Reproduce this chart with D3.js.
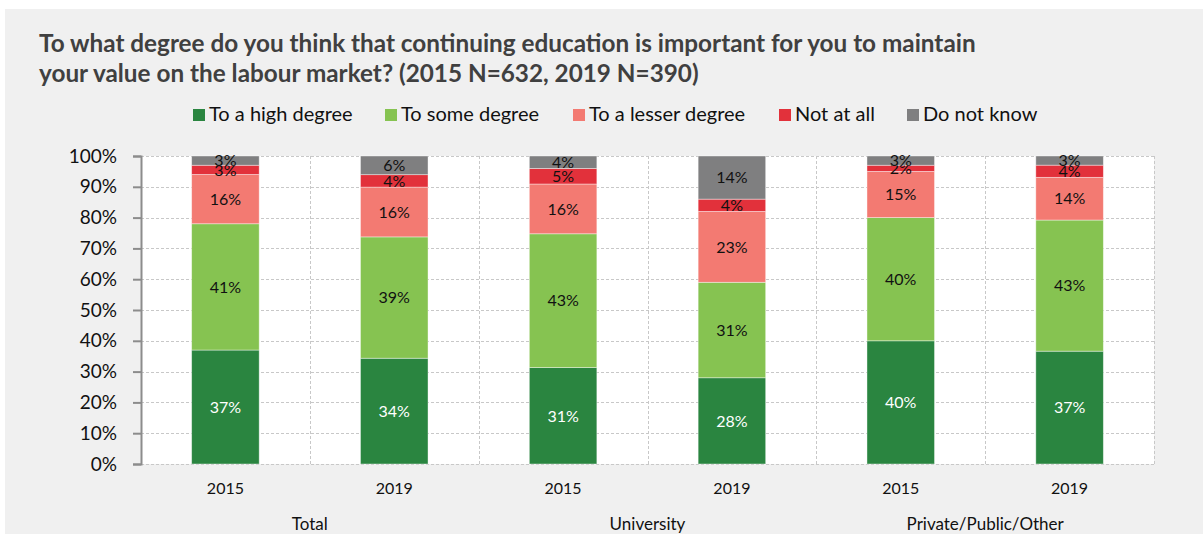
<!DOCTYPE html>
<html lang="en">
<head>
    <meta charset="UTF-8">
    <title>Continuing education</title>
    <script src="https://d3js.org/d3.v7.min.js"></script>
    <style>
        body { margin: 0; background: #fff; font-family: Lato, "Open Sans", sans-serif; }
        svg { display: block; }
    </style>
</head>
<body>
    <div id="chart"></div>

    <script>
        const titleLines = [
            "To what degree do you think that continuing education is important for you to maintain",
            "your value on the labour market? (2015 N=632, 2019 N=390)"
        ];
        const series = ["To a high degree", "To some degree", "To a lesser degree", "Not at all", "Do not know"];
        const colors = ["#2a8540", "#86c351", "#f37a72", "#e2313b", "#7f7f80"];
        const groups = ["Total", "University", "Private/Public/Other"];
        const years = ["2015", "2019"];

        // one array per series, in bar order: Total 15, Total 19, Uni 15, Uni 19, Priv 15, Priv 19
        const highDegree   = [37, 34, 31, 28, 40, 37];
        const someDegree   = [41, 39, 43, 31, 40, 43];
        const lesserDegree = [16, 16, 16, 23, 15, 14];
        const notAtAll     = [3, 4, 5, 4, 2, 4];
        const doNotKnow    = [3, 6, 4, 14, 3, 3];
        const yTicks = [0, 10, 20, 30, 40, 50, 60, 70, 80, 90, 100];

        const W = 1203, H = 534;
        const pLeft = 141, pRight = 1154, pTop = 156, pBottom = 464;

        const svg = d3.select("#chart").append("svg")
            .attr("width", W).attr("height", H);

        // grey panel
        svg.append("rect").attr("x", 5).attr("y", 9)
            .attr("width", W - 5).attr("height", H - 9).attr("fill", "#f0f0f0");

        // title
        svg.append("g").selectAll("text").data(titleLines).enter().append("text")
            .attr("x", 39).attr("y", (d, i) => 52 + i * 30)
            .attr("font-size", 24.3).attr("font-weight", "bold").attr("fill", "#404040")
            .text(d => d);

        // legend
        const legendX = [193, 385, 573, 779, 907];
        const legend = svg.append("g").selectAll("g").data(series).enter().append("g")
            .attr("transform", (d, i) => `translate(${legendX[i]}, 115)`);
        legend.append("rect").attr("x", 0).attr("y", -6).attr("width", 12).attr("height", 12)
            .attr("fill", (d, i) => colors[i]);
        legend.append("text").attr("x", 16).attr("y", 6)
            .attr("font-size", 20).attr("fill", "#111").text(d => d);

        // data rows
        const bars = [];
        groups.forEach((g, gi) => years.forEach((yr, yi) => {
            const i = gi * 2 + yi;
            bars.push({
                key: g + " " + yr, group: g, year: yr,
                [series[0]]: highDegree[i], [series[1]]: someDegree[i],
                [series[2]]: lesserDegree[i], [series[3]]: notAtAll[i], [series[4]]: doNotKnow[i]
            });
        }));

        const x = d3.scaleBand().domain(bars.map(d => d.key)).range([pLeft, pRight]).paddingInner(0).paddingOuter(0);
        const y = d3.scaleLinear().domain([0, 1]).range([pBottom, pTop]);
        const barW = x.bandwidth() * 0.4;

        // plot area
        svg.append("rect").attr("x", pLeft).attr("y", pTop)
            .attr("width", pRight - pLeft).attr("height", pBottom - pTop).attr("fill", "#fff");

        // grid
        const grid = svg.append("g").attr("stroke", "#c8c8c8").attr("stroke-dasharray", "3,2").attr("stroke-width", 1);
        grid.selectAll("line.h").data(yTicks).enter().append("line")
            .attr("x1", pLeft).attr("x2", pRight)
            .attr("y1", d => Math.round(y(d / 100)) + 0.5).attr("y2", d => Math.round(y(d / 100)) + 0.5);
        grid.selectAll("line.v").data(bars.map(d => d.key).slice(1).concat(["end"])).enter().append("line")
            .attr("x1", d => d === "end" ? pRight + 0.5 : Math.round(x(d)) + 0.5)
            .attr("x2", d => d === "end" ? pRight + 0.5 : Math.round(x(d)) + 0.5)
            .attr("y1", pTop).attr("y2", pBottom);

        // stacked bars
        const stack = d3.stack().keys(series).offset(d3.stackOffsetExpand);
        const layers = stack(bars);

        const layerG = svg.append("g").selectAll("g").data(layers).enter().append("g")
            .attr("fill", (d, i) => colors[i]);
        layerG.selectAll("rect").data(d => d).enter().append("rect")
            .attr("x", d => x(d.data.key) + (x.bandwidth() - barW) / 2)
            .attr("width", barW)
            .attr("y", d => y(d[1]))
            .attr("height", d => y(d[0]) - y(d[1]))
            .attr("stroke", "#ffffff").attr("stroke-opacity", 0.5).attr("stroke-width", 0.8);

        layerG.selectAll("text").data((d, i) => d.map(p => ({ p: p, s: i, v: p.data[series[i]] })))
            .enter().append("text")
            .attr("x", d => x(d.p.data.key) + x.bandwidth() / 2)
            .attr("y", d => (y(d.p[0]) + y(d.p[1])) / 2 + 5.8)
            .attr("text-anchor", "middle").attr("font-size", 16)
            .attr("fill", d => d.s === 0 ? "#ffffff" : "#111111")
            .text(d => d.v + "%");

        // y axis
        const yAxis = svg.append("g").attr("transform", `translate(${pLeft},0)`)
            .call(d3.axisLeft(y).tickValues(yTicks.map(t => t / 100)).tickFormat(d3.format(".0%")).tickSize(8).tickPadding(16));
        yAxis.select(".domain").attr("stroke", "#8c8c8c").attr("stroke-width", 2);
        yAxis.selectAll(".tick line").attr("stroke", "#8c8c8c").attr("stroke-width", 2);
        yAxis.selectAll(".tick text").attr("font-size", 19).attr("fill", "#111")
            .attr("font-family", "Lato, sans-serif");

        // x axis: years then groups
        const xAxis = svg.append("g").attr("transform", `translate(0,${pBottom})`)
            .call(d3.axisBottom(x).tickSize(0).tickPadding(19).tickFormat(k => bars.find(b => b.key === k).year));
        xAxis.select(".domain").remove();
        xAxis.selectAll(".tick text").attr("font-size", 16).attr("fill", "#111")
            .attr("font-family", "Lato, sans-serif");

        svg.append("g").selectAll("text").data(groups).enter().append("text")
            .attr("x", g => (x(g + " 2015") + x(g + " 2019") + x.bandwidth()) / 2)
            .attr("y", 530)
            .attr("text-anchor", "middle").attr("font-size", 17).attr("fill", "#111")
            .text(g => g);
    </script>
</body>
</html>
